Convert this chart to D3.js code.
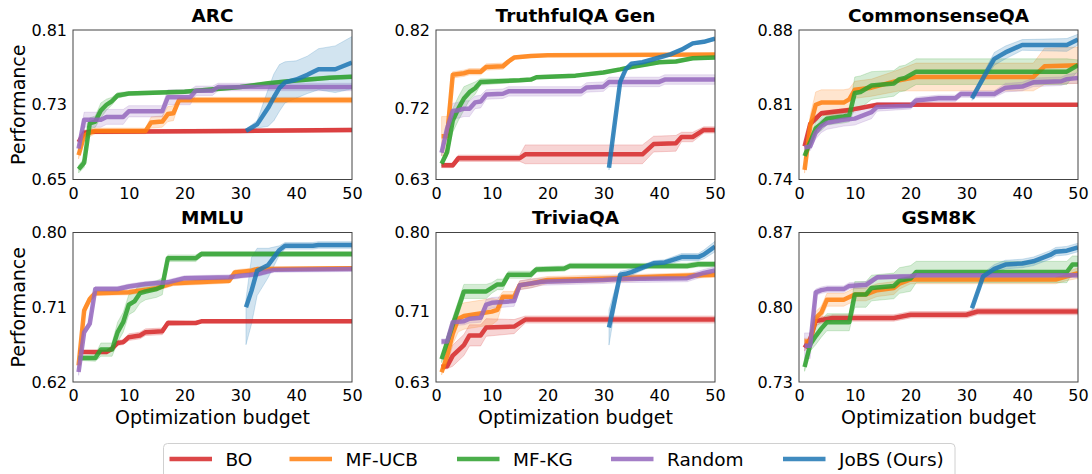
<!DOCTYPE html>
<html><head><meta charset="utf-8">
<script src="https://cdn.jsdelivr.net/npm/d3@7"></script>
<style>
body{margin:0;background:#fff;}
text{font-family:"DejaVu Sans",sans-serif;fill:#000;}
</style></head>
<body><svg id="c" width="1092" height="474"></svg>
<script>
// ---- data: each point is [budget, mean, halfWidth] or [budget, mean, halfLow, halfHigh]
const seriesNames = ["BO","MF-UCB","MF-KG","Random","JoBS (Ours)"];
const panelTitles = ["ARC","TruthfulQA Gen","CommonsenseQA","MMLU","TriviaQA","GSM8K"];
const yTickLabels = [[0.65,0.73,0.81],[0.63,0.72,0.82],[0.74,0.81,0.88],[0.62,0.71,0.80],[0.63,0.71,0.80],[0.73,0.80,0.87]];
const xTicks = [0,10,20,30,40,50];

const arcBO = [[1,0.69,0.004],[2,0.70,0.003],[3,0.701,0.002],[30,0.702,0.002],[50,0.703,0.002]];
const arcUCB = [[1,0.676,0.004],[2,0.697,0.004],[3,0.700,0.004],[4,0.702,0.003],[13,0.702,0.003],[14,0.711,0.006],[16,0.712,0.006],[17,0.72,0.008],[18,0.721,0.008],[19,0.735,0.003],[50,0.735,0.003]];
const arcKG = [[1,0.661,0.004],[2,0.668,0.005],[3,0.71,0.006],[4,0.712,0.006],[5,0.724,0.008],[6,0.73,0.006],[7,0.734,0.004],[8,0.740,0.003],[10,0.742,0.002],[20,0.744,0.002],[30,0.749,0.002],[35,0.753,0.002],[40,0.756,0.002],[46,0.759,0.002],[50,0.760,0.002]];
const arcRand = [[1,0.683,0.004],[2,0.714,0.008],[5,0.714,0.008],[6,0.717,0.008],[9,0.717,0.008],[10,0.723,0.006],[16,0.723,0.006],[17,0.738,0.008],[21,0.738,0.008],[22,0.745,0.005],[25,0.745,0.005],[26,0.749,0.004],[50,0.749,0.004]];
const arcJoBS = [[31,0.702,0.002],[33,0.709,0.004],[35,0.727,0.02],[36,0.738,0.025],[37,0.748,0.025],[38,0.754,0.022],[40,0.757,0.02],[42,0.762,0.02],[44,0.768,0.022],[47,0.768,0.025],[50,0.775,0.028]];

const tqBO = [[1,0.648,0.003],[3,0.648,0.003],[4,0.657,0.004],[15,0.657,0.004],[16,0.662,0.012],[37,0.662,0.012],[39,0.675,0.01],[43,0.676,0.01],[44,0.684,0.006],[46,0.684,0.006],[48,0.693,0.004],[50,0.693,0.004]];
const tqUCB = [[1,0.685,0.025],[2,0.685,0.025],[3,0.763,0.004],[5,0.765,0.004],[6,0.767,0.004],[8,0.767,0.004],[9,0.773,0.004],[12,0.774,0.004],[13,0.78,0.003],[14,0.785,0.002],[17,0.787,0.002],[20,0.788,0.001],[50,0.789,0.001]];
const tqKG = [[1,0.65,0.003],[2,0.665,0.006],[3,0.705,0.015],[4,0.72,0.015],[5,0.733,0.015],[6,0.741,0.01],[7,0.746,0.008],[8,0.754,0.004],[15,0.756,0.002],[17,0.757,0.002],[18,0.76,0.002],[25,0.762,0.002],[30,0.766,0.002],[33,0.77,0.002],[35,0.773,0.002],[40,0.779,0.002],[43,0.78,0.002],[46,0.784,0.002],[50,0.785,0.002]];
const tqRand = [[1,0.664,0.004],[2,0.695,0.01],[3,0.717,0.01],[4,0.718,0.01],[5,0.72,0.01],[6,0.72,0.01],[7,0.728,0.008],[8,0.729,0.008],[9,0.738,0.006],[12,0.739,0.006],[13,0.742,0.006],[26,0.742,0.006],[27,0.747,0.006],[30,0.748,0.006],[31,0.754,0.006],[40,0.754,0.006],[41,0.757,0.006],[50,0.757,0.006]];
const tqJoBS = [[31,0.645,0.003],[32,0.70,0.004],[33,0.754,0.004],[34,0.77,0.003],[35,0.777,0.002],[37,0.779,0.002],[40,0.785,0.002],[42,0.789,0.002],[44,0.795,0.002],[46,0.803,0.002],[48,0.805,0.002],[50,0.809,0.002]];

const csBO = [[1,0.771,0.003],[2,0.792,0.003],[3,0.797,0.003],[4,0.802,0.002],[9,0.805,0.002],[14,0.81,0.001],[50,0.81,0.001]];
const csUCB = [[1,0.749,0.003],[2,0.79,0.01],[3,0.81,0.012],[4,0.812,0.012],[8,0.812,0.012],[9,0.815,0.01],[10,0.824,0.008],[13,0.826,0.008],[18,0.833,0.01],[21,0.836,0.013],[42,0.836,0.013],[44,0.846,0.017],[50,0.847,0.017]];
const csKG = [[1,0.762,0.003],[2,0.775,0.004],[3,0.788,0.006],[4,0.792,0.006],[5,0.797,0.006],[8,0.799,0.006],[9,0.8,0.006],[10,0.821,0.015],[11,0.822,0.015],[12,0.825,0.014],[13,0.828,0.013],[17,0.83,0.012],[18,0.834,0.012],[19,0.835,0.012],[21,0.841,0.012],[48,0.841,0.012],[50,0.847,0.005]];
const csRand = [[1,0.77,0.004],[2,0.771,0.004],[3,0.784,0.006],[4,0.79,0.006],[5,0.793,0.006],[8,0.796,0.006],[10,0.797,0.006],[13,0.803,0.006],[14,0.808,0.004],[20,0.809,0.003],[21,0.814,0.003],[25,0.816,0.003],[28,0.816,0.003],[29,0.82,0.003],[35,0.82,0.003],[37,0.826,0.004],[40,0.827,0.004],[42,0.831,0.004],[47,0.832,0.004],[48,0.834,0.004],[50,0.835,0.005]];
const csJoBS = [[31,0.816,0.002],[33,0.835,0.004],[34,0.844,0.005],[35,0.853,0.006],[37,0.859,0.006],[40,0.866,0.005],[48,0.866,0.006],[50,0.871,0.005]];

const mmBO = [[1,0.656,0.002],[6,0.656,0.002],[7,0.66,0.002],[8,0.667,0.003],[9,0.668,0.003],[10,0.674,0.004],[12,0.676,0.004],[13,0.68,0.004],[16,0.681,0.004],[17,0.691,0.003],[22,0.691,0.002],[23,0.693,0.002],[50,0.693,0.002]];
const mmUCB = [[1,0.64,0.005],[2,0.706,0.005],[3,0.72,0.004],[4,0.727,0.003],[10,0.728,0.003],[15,0.733,0.003],[18,0.739,0.003],[25,0.741,0.003],[28,0.742,0.003],[29,0.752,0.003],[32,0.754,0.003],[33,0.756,0.002],[50,0.757,0.002]];
const mmKG = [[1,0.649,0.003],[4,0.649,0.004],[5,0.659,0.008],[7,0.659,0.008],[8,0.68,0.012],[9,0.692,0.012],[10,0.713,0.012],[11,0.717,0.012],[12,0.727,0.012],[13,0.729,0.01],[15,0.732,0.01],[16,0.735,0.01],[17,0.769,0.004],[22,0.769,0.004],[23,0.774,0.003],[50,0.774,0.003]];
const mmRand = [[1,0.632,0.004],[2,0.68,0.004],[3,0.69,0.004],[4,0.732,0.003],[8,0.732,0.003],[10,0.735,0.003],[13,0.738,0.003],[17,0.74,0.003],[20,0.745,0.003],[28,0.746,0.003],[30,0.748,0.003],[33,0.75,0.003],[36,0.755,0.003],[50,0.756,0.003]];
const mmJoBS = [[31,0.71,0.045,0.01],[32,0.73,0.04,0.04],[33,0.754,0.03,0.027],[35,0.761,0.015,0.02],[37,0.779,0.006,0.005],[38,0.784,0.004],[43,0.784,0.004],[44,0.785,0.004],[50,0.785,0.004]];

const tvBO = [[1,0.647,0.003],[2,0.648,0.003],[3,0.66,0.012],[5,0.672,0.012],[6,0.683,0.012],[8,0.683,0.012],[9,0.692,0.01],[14,0.693,0.008],[16,0.701,0.004],[50,0.701,0.004]];
const tvUCB = [[1,0.641,0.003],[2,0.66,0.008],[3,0.685,0.012],[4,0.702,0.015],[5,0.705,0.015],[7,0.707,0.015],[10,0.71,0.015],[11,0.712,0.012],[12,0.727,0.006],[14,0.727,0.006],[15,0.74,0.005],[17,0.742,0.005],[20,0.746,0.004],[33,0.748,0.004],[40,0.75,0.003],[50,0.752,0.003]];
const tvKG = [[1,0.656,0.004],[3,0.695,0.008],[5,0.733,0.008],[9,0.733,0.008],[10,0.737,0.006],[11,0.741,0.006],[12,0.741,0.006],[13,0.752,0.004],[17,0.752,0.004],[18,0.758,0.003],[23,0.759,0.003],[24,0.762,0.003],[45,0.762,0.003],[47,0.764,0.003],[50,0.764,0.003]];
const tvRand = [[1,0.676,0.003],[2,0.676,0.003],[3,0.698,0.004],[5,0.699,0.004],[6,0.702,0.005],[8,0.703,0.005],[9,0.718,0.006],[10,0.72,0.006],[14,0.722,0.006],[15,0.74,0.005],[17,0.742,0.005],[19,0.744,0.004],[30,0.746,0.004],[33,0.747,0.004],[45,0.748,0.004],[48,0.754,0.004],[50,0.757,0.004]];
const tvJoBS = [[31,0.692,0.02],[33,0.752,0.004],[34,0.753,0.004],[35,0.755,0.004],[37,0.76,0.003],[39,0.765,0.003],[41,0.766,0.003],[44,0.772,0.004],[47,0.772,0.004],[48,0.775,0.005],[50,0.784,0.006]];

const gsBO = [[1,0.762,0.003],[2,0.77,0.004],[3,0.787,0.004],[4,0.788,0.003],[6,0.79,0.003],[17,0.79,0.003],[20,0.793,0.003],[30,0.793,0.003],[32,0.796,0.003],[50,0.796,0.003]];
const gsUCB = [[1,0.768,0.003],[2,0.768,0.003],[3,0.79,0.006],[4,0.795,0.006],[5,0.807,0.006],[8,0.807,0.006],[10,0.812,0.006],[12,0.812,0.006],[14,0.816,0.006],[17,0.818,0.006],[18,0.822,0.005],[20,0.826,0.004],[46,0.826,0.004],[48,0.829,0.004],[50,0.832,0.005]];
const gsKG = [[1,0.744,0.004],[2,0.765,0.006],[3,0.773,0.008],[4,0.78,0.008],[5,0.786,0.008],[9,0.786,0.008],[10,0.812,0.012],[12,0.812,0.012],[13,0.818,0.012],[17,0.82,0.012],[18,0.825,0.012],[20,0.827,0.012],[21,0.833,0.01],[48,0.833,0.01],[49,0.84,0.008],[50,0.84,0.008]];
const gsRand = [[1,0.764,0.012],[2,0.764,0.012],[3,0.814,0.003],[4,0.816,0.003],[5,0.817,0.003],[8,0.817,0.003],[9,0.82,0.003],[12,0.821,0.003],[14,0.828,0.002],[20,0.829,0.002],[21,0.83,0.002],[50,0.83,0.002]];
const gsJoBS = [[31,0.799,0.002],[33,0.829,0.003],[35,0.836,0.004],[37,0.84,0.004],[40,0.841,0.004],[42,0.843,0.004],[45,0.849,0.004],[46,0.852,0.004],[48,0.853,0.004],[50,0.856,0.004]];

const panelSeries = [
  [arcBO, arcUCB, arcKG, arcRand, arcJoBS],
  [tqBO, tqUCB, tqKG, tqRand, tqJoBS],
  [csBO, csUCB, csKG, csRand, csJoBS],
  [mmBO, mmUCB, mmKG, mmRand, mmJoBS],
  [tvBO, tvUCB, tvKG, tvRand, tvJoBS],
  [gsBO, gsUCB, gsKG, gsRand, gsJoBS]
];

// ---- style / layout
const colors = ["#d62728","#ff7f0e","#2ca02c","#9467bd","#1f77b4"];
const colLeft = [73, 436, 799];
const rowTop = [30, 232.5];
const pw = 279, ph = 149.5;

const svg = d3.select("#c");
const defs = svg.append("defs");

panelSeries.forEach((series, pi) => {
  const r = Math.floor(pi / 3), c = pi % 3;
  const left = colLeft[c], top = rowTop[r];
  const ticks = yTickLabels[pi];
  const x = d3.scaleLinear().domain([0, 50]).range([0, pw]);
  const y = d3.scaleLinear().domain([ticks[0], ticks[2]]).range([ph, 0]);
  const g = svg.append("g").attr("transform", `translate(${left},${top})`);

  defs.append("clipPath").attr("id", "clip" + pi)
    .append("rect").attr("width", pw).attr("height", ph);

  const plot = g.append("g").attr("clip-path", `url(#clip${pi})`);
  const lo = d => d[1] - d[2];
  const hi = d => d[1] + (d.length > 3 ? d[3] : d[2]);

  series.forEach((data, si) => {
    const area = d3.area().x(d => x(d[0])).y0(d => y(lo(d))).y1(d => y(hi(d)));
    plot.append("path").attr("d", area(data))
      .attr("fill", colors[si]).attr("fill-opacity", 0.2)
      .attr("stroke", colors[si]).attr("stroke-opacity", 0.2).attr("stroke-width", 1);
  });
  series.forEach((data, si) => {
    const line = d3.line().x(d => x(d[0])).y(d => y(d[1]));
    plot.append("path").attr("d", line(data))
      .attr("fill", "none").attr("stroke", colors[si]).attr("stroke-opacity", 0.85)
      .attr("stroke-width", 4.5).attr("stroke-linejoin", "round");
  });

  // frame
  g.append("rect").attr("width", pw).attr("height", ph)
    .attr("fill", "none").attr("stroke", "#444").attr("stroke-width", 1);

  // axes (labels only, no tick marks)
  const xa = d3.axisBottom(x).tickValues(xTicks).tickSize(0).tickPadding(8).tickFormat(d3.format("d"));
  const xg = g.append("g").attr("transform", `translate(0,${ph})`).call(xa);
  xg.select(".domain").remove();
  xg.selectAll("text").attr("font-size", 16).attr("font-family", "DejaVu Sans").attr("fill", "#000");

  const ya = d3.axisLeft(y).tickValues(ticks).tickSize(0).tickPadding(6).tickFormat(d3.format(".2f"));
  const yg = g.append("g").call(ya);
  yg.select(".domain").remove();
  yg.selectAll("text").attr("font-size", 16).attr("font-family", "DejaVu Sans").attr("fill", "#000");

  g.append("text").attr("x", pw / 2).attr("y", -8.5).attr("text-anchor", "middle")
    .attr("font-size", 18.5).attr("font-weight", "bold").text(panelTitles[pi]);

  if (c === 0) {
    g.append("text").attr("transform", `translate(${-48},${ph / 2}) rotate(-90)`)
      .attr("text-anchor", "middle").attr("font-size", 19).text("Performance");
  }
  if (r === 1) {
    g.append("text").attr("x", pw / 2).attr("y", ph + 41.5).attr("text-anchor", "middle")
      .attr("font-size", 19).text("Optimization budget");
  }
});

// legend
const legX = [169.5, 289.5, 457, 611, 783];
const lg = svg.append("g");
lg.append("rect").attr("x", 163.5).attr("y", 443.5).attr("width", 791.5).attr("height", 40)
  .attr("rx", 4).attr("fill", "#fff").attr("stroke", "#d0d0d0").attr("stroke-width", 1);
seriesNames.forEach((n, i) => {
  lg.append("line").attr("x1", legX[i]).attr("x2", legX[i] + 42.5).attr("y1", 459).attr("y2", 459)
    .attr("stroke", colors[i]).attr("stroke-opacity", 0.85).attr("stroke-width", 4.5);
  lg.append("text").attr("x", legX[i] + 56).attr("y", 466).attr("font-size", 18.5).text(n);
});
</script></body></html>
